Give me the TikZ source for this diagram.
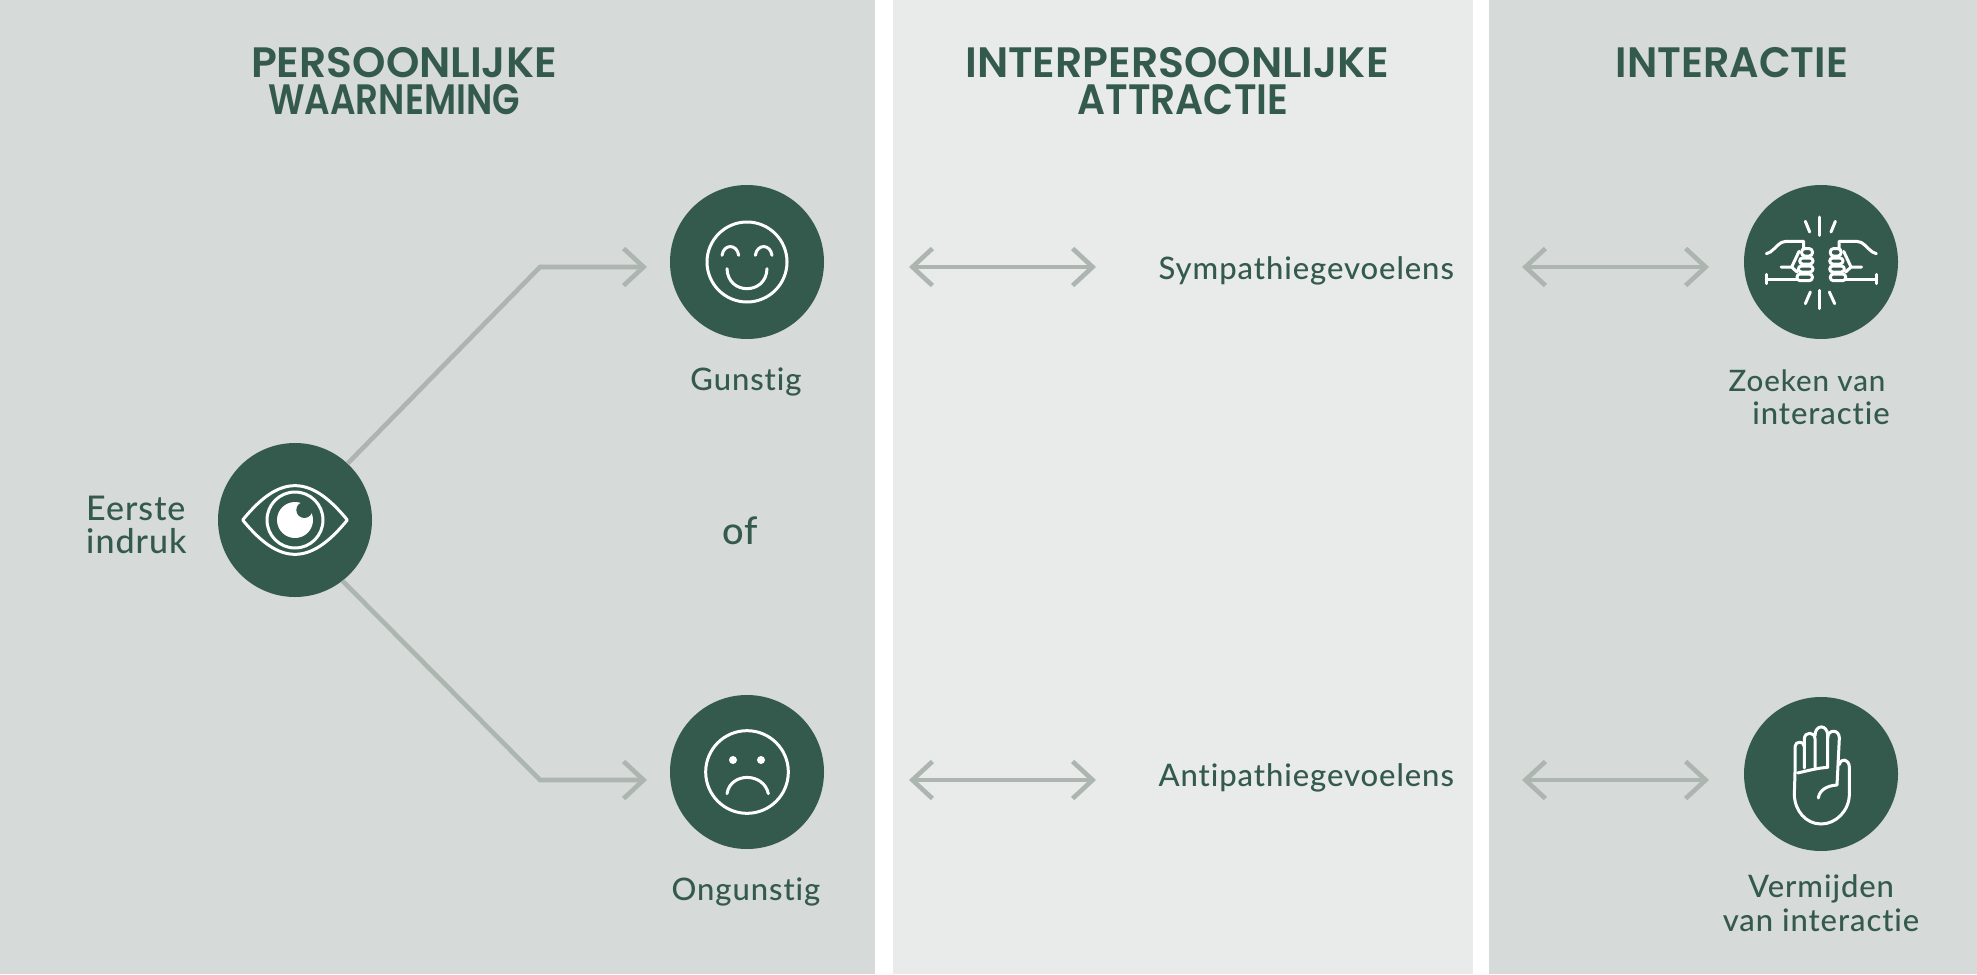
\documentclass[tikz,border=0pt]{standalone}
\usepackage{fontspec}
\setmainfont{Lato}
\newfontfamily\titlefont{Poppins SemiBold}
\newfontfamily\bodyfont[LetterSpace=3,Ligatures=NoCommon]{Lato Medium}
\newfontfamily\titlenarrowa[FakeStretch=0.84]{Poppins SemiBold}
\newfontfamily\titlenarrowb[FakeStretch=0.92]{Poppins SemiBold}
\newfontfamily\titlenarrowc[FakeStretch=0.97]{Poppins SemiBold}
\usetikzlibrary{arrows.meta}
\definecolor{dark}{HTML}{345A4E}
\definecolor{pone}{HTML}{D6DAD9}
\definecolor{ptwo}{HTML}{E9EBEA}
\definecolor{arrowgray}{HTML}{ADB5B0}
\tikzset{
  panel/.style={fill=#1,draw=none},
  disc/.style={circle,fill=dark,draw=none,minimum size=154pt,inner sep=0pt},
  heading/.style={text=dark,font=\fontsize{42.5}{37}\selectfont,inner sep=0pt,align=center},
  label/.style={text=dark,font=\bodyfont\fontsize{31}{32}\selectfont,inner sep=0pt},
  conn/.style={draw=arrowgray,line width=4.6pt,-{Straight Barb[length=20pt,width=37pt,line width=4.6pt]}},
  biconn/.style={draw=arrowgray,line width=4.6pt,{Straight Barb[length=20pt,width=37pt,line width=4.6pt]}-{Straight Barb[length=20pt,width=37pt,line width=4.6pt]}},
  icon/.style={draw=white,line width=3pt,line cap=round,line join=round,fill=none},
}
\begin{document}
\begin{tikzpicture}[x=1pt,y=-1pt]
\useasboundingbox (0,0) rectangle (1977,974);
\fill[white] (0,0) rectangle (1977,974);
\fill[panel=pone] (0,0) rectangle (875,974);
\fill[panel=ptwo] (893,0) rectangle (1473,974);
\fill[panel=pone] (1489,0) rectangle (1977,974);

\node[heading] (t1) at (404,81) {{\titlefont PERSOONLIJKE}\\\hspace*{-20pt}{\titlenarrowa WAARNEMING}};
\node[heading] (t2) at (1177,81) {{\titlefont INTERPERSOONLIJKE}\\\hspace*{12pt}{\titlenarrowb ATTRACTIE}};
\node[heading,font=\titlenarrowc\fontsize{42.5}{37}\selectfont] (t3) at (1732,63) {INTERACTIE};

\node[disc] (eye) at (295,520) {};
\node[disc] (smile) at (747,262) {};
\node[disc] (frown) at (747,772) {};
\node[disc] (fist) at (1821,262) {};
\node[disc] (hand) at (1821,774) {};

\node[label,anchor=west,font=\bodyfont\fontsize{34}{36}\selectfont] (l1) at (86,508) {Eerste};
\node[label,anchor=west,font=\bodyfont\fontsize{34}{36}\selectfont] (l2) at (86,541) {indruk};
\node[label] (l3) at (746,382) {Gunstig};
\node[label] (l4) at (746,892) {Ongunstig};
\node[label,font=\bodyfont\fontsize{38}{38}\selectfont] (l5) at (740,531) {of};
\node[label,anchor=east] (l6) at (1454,271) {Sympathiegevoelens};
\node[label,anchor=east] (l7) at (1454,778) {Antipathiegevoelens};
\node[label,font=\bodyfont\fontsize{29.5}{32}\selectfont] (l8) at (1807,381) {Zoeken van};
\node[label] (l9) at (1821,413) {interactie};
\node[label] (l10) at (1821,889) {Vermijden};
\node[label] (l11) at (1821,920) {van interactie};

\coordinate (up1) at (540,267);
\coordinate (up2) at (647,267);
\coordinate (dn1) at (540,780);
\coordinate (dn2) at (647,780);
\coordinate (a1) at (909,267);
\coordinate (a2) at (1096,267);
\coordinate (b1) at (909,780);
\coordinate (b2) at (1096,780);
\coordinate (c1) at (1522,267);
\coordinate (c2) at (1709,267);
\coordinate (d1) at (1522,780);
\coordinate (d2) at (1709,780);
\draw[conn] (eye.47) -- (up1) -- (up2);
\draw[conn] (eye.-52) -- (dn1) -- (dn2);
\draw[biconn] (a1) -- (a2);
\draw[biconn] (b1) -- (b2);
\draw[biconn] (c1) -- (c2);
\draw[biconn] (d1) -- (d2);

% eye icon
\begin{scope}[shift={(eye.center)},scale=1/3]
\draw[icon] (-157,0) .. controls (-100,-70) and (-50,-103) .. (0,-103) .. controls (50,-103) and (100,-70) .. (157,0) .. controls (100,70) and (50,103) .. (0,103) .. controls (-50,103) and (-100,70) .. (-157,0) -- cycle;
\draw[icon] (0,0) circle (84);
\fill[white] (0,0) circle (54);
\fill[dark] (28,-30) circle (24);
\end{scope}

% smile icon
\begin{scope}[shift={(smile.center)},scale=1/3]
\draw[icon] (0,0) circle (120);
\draw[icon] (-75,-20) .. controls (-70,-55) and (-30,-55) .. (-25,-20);
\draw[icon] (25,-20) .. controls (30,-55) and (70,-55) .. (75,-20);
\draw[icon] (-60,20) .. controls (-58,100) and (58,100) .. (60,20);
\end{scope}

% frown icon
\begin{scope}[shift={(frown.center)},scale=1/3]
\draw[icon] (0,0) circle (124);
\fill[white] (-42,-36) circle (12);
\fill[white] (42,-36) circle (12);
\draw[icon] (-60,65) .. controls (-50,0) and (50,0) .. (64,65);
\end{scope}

% fist icon
\begin{scope}[shift={(fist.center)},scale=1/3]
\draw[icon] (-4,-135) -- (-4,-80);
\draw[icon] (-47,-122) -- (-34,-90);
\draw[icon] (43,-122) -- (30,-90);
\draw[icon] (-4,85) -- (-4,140);
\draw[icon] (-32,90) -- (-47,125);
\draw[icon] (25,90) -- (41,125);
\foreach \s/\o in {1/0,-1/2}{
\begin{scope}[shift={(\o,0)},xscale=\s]
\draw[icon] (-164,-25) -- (-152,-30) .. controls (-135,-42) and (-125,-62) .. (-105,-62) -- (-52,-62) -- (-52,-40);
\draw[icon] (-120,15) -- (-88,15) -- (-66,-32);
\draw[icon] (-164,37) -- (-164,65);
\draw[icon] (-164,53) -- (-72,53);
\draw[icon] (-88,15) -- (-72,30);
\draw[icon,rounded corners=3pt] (-58,-40) rectangle (-26,-18);
\draw[icon,rounded corners=3pt] (-64,-12) rectangle (-24,6);
\draw[icon,rounded corners=3pt] (-68,12) rectangle (-24,30);
\draw[icon,rounded corners=3pt] (-72,36) rectangle (-26,56);
\end{scope}}
\end{scope}

% hand icon
\begin{scope}[shift={(hand.center)},scale=1/3]
\draw[icon] (-78,-5) -- (-78,-82) .. controls (-78,-100) and (-50,-100) .. (-50,-82) -- (-50,-18);
\draw[icon] (-50,-82) -- (-50,-105) .. controls (-50,-128) and (-18,-128) .. (-18,-105) -- (-18,-20);
\draw[icon] (-18,-115) .. controls (-18,-150) and (20,-150) .. (20,-115) -- (20,-20);
\draw[icon] (20,-108) .. controls (20,-135) and (55,-135) .. (55,-108) -- (48,33) .. controls (15,35) and (-5,50) .. (-8,72);
\draw[icon] (-70,-3) .. controls (-40,-10) and (-10,-18) .. (20,-20);
\draw[icon] (55,-28) .. controls (60,-50) and (85,-45) .. (85,-20) -- (85,60) .. controls (85,110) and (45,150) .. (0,150) .. controls (-45,150) and (-80,110) .. (-80,60) -- (-78,-5);
\end{scope}
\end{tikzpicture}
\end{document}
